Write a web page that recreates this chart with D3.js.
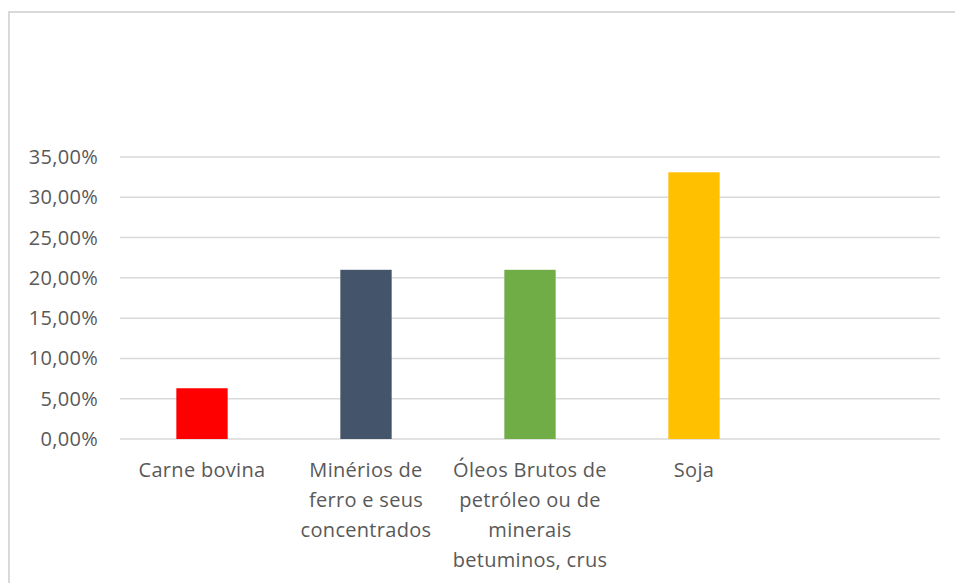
<!DOCTYPE html>
<meta charset="utf-8">
<style>
body { margin: 0; background: #fff; }
text { font-family: "Open Sans", sans-serif; fill: #595959; letter-spacing: 0.3px; }
.grid line { stroke: #d9d9d9; stroke-width: 1.5px; }
</style>
<body>
<svg width="955" height="583"></svg>
<script src="https://d3js.org/d3.v7.min.js"></script>
<script>

// categories (last one is an empty slot in the original chart)
var categories = ["Carne bovina", "Minérios de ferro e seus concentrados",
  "Óleos Brutos de petróleo ou de minerais betuminos, crus", "Soja", ""];
var labelLines = [
  ["Carne bovina"],
  ["Minérios de", "ferro e seus", "concentrados"],
  ["Óleos Brutos de", "petróleo ou de", "minerais", "betuminos, crus"],
  ["Soja"],
  []
];
var values = [6.3, 21.0, 21.0, 33.1, null];
var colors = ["#ff0000", "#44546a", "#70ad47", "#ffc000", "#fff"];
var yTicks = [0, 5, 10, 15, 20, 25, 30, 35];

var svg = d3.select("svg");

// outer chart border
svg.append("rect")
    .attr("x", 9).attr("y", 12)
    .attr("width", 960).attr("height", 600)
    .attr("fill", "none")
    .attr("stroke", "#d9d9d9")
    .attr("stroke-width", 2);

var x = d3.scaleBand()
    .domain(d3.range(categories.length))
    .range([120, 940])
    .paddingInner(0.687)
    .paddingOuter(0.3435);

var y = d3.scaleLinear()
    .domain([0, 35])
    .range([439, 157]);

var fmt = function(d) { return d.toFixed(2).replace(".", ",") + "%"; };

svg.append("g")
    .attr("class", "grid")
  .selectAll("line")
  .data(yTicks)
  .enter().append("line")
    .attr("x1", 120).attr("x2", 940)
    .attr("y1", function(d) { return y(d); })
    .attr("y2", function(d) { return y(d); });

svg.append("g")
  .selectAll("text")
  .data(yTicks)
  .enter().append("text")
    .attr("x", 98)
    .attr("y", function(d) { return y(d); })
    .attr("dy", "0.35em")
    .attr("text-anchor", "end")
    .style("font-size", "20px")
    .text(fmt);

svg.append("g")
  .selectAll("rect")
  .data(values)
  .enter().filter(function(d) { return d != null; }).append("rect")
    .attr("x", function(d, i) { return x(i); })
    .attr("width", x.bandwidth())
    .attr("y", function(d) { return y(d); })
    .attr("height", function(d) { return y(0) - y(d); })
    .attr("fill", function(d, i) { return colors[i]; });

var lab = svg.append("g")
  .selectAll("text")
  .data(labelLines)
  .enter().append("text")
    .attr("text-anchor", "middle")
    .style("font-size", "20px");

lab.each(function(lines, i) {
  var cx = x(i) + x.bandwidth() / 2;
  d3.select(this).selectAll("tspan")
    .data(lines)
    .enter().append("tspan")
      .attr("x", cx)
      .attr("y", function(d, j) { return 477 + j * 30; })
      .text(function(d) { return d; });
});

</script>
</body>
